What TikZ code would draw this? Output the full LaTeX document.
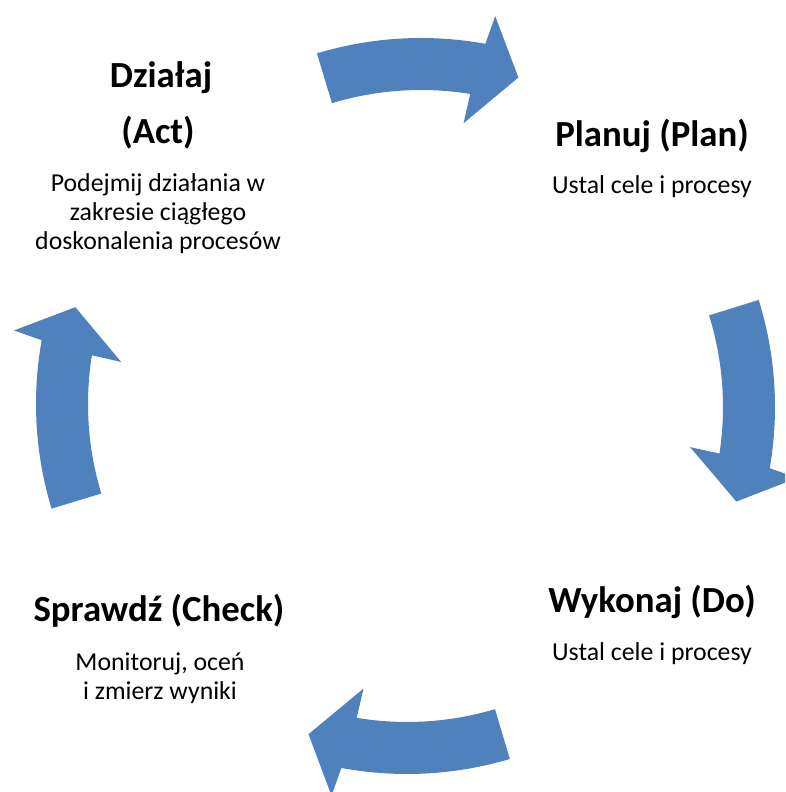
\documentclass[tikz,border=0pt]{standalone}
\usepackage{fontspec}
\setmainfont{Carlito}
\usetikzlibrary{calc}
\definecolor{cycleblue}{HTML}{4F81BD}
\tikzset{
  cyclearrow/.style={fill=cycleblue},
  headtext/.style={anchor=base, font=\fontsize{36.8}{40}\selectfont\bfseries, inner sep=0pt},
  bodytext/.style={anchor=base, font=\fontsize{25.8}{30}\selectfont, inner sep=0pt}
}
% #1 centre, #2 tail angle (arrow runs clockwise)
\newcommand{\pdcaarrow}[2]{%
  \fill[cyclearrow] ($(#1)+(#2:360)$)
    arc[start angle=#2, end angle={#2-27.1}, radius=360]
    -- ($(#1)+({#2-27.8}:389)$)
    -- ($(#1)+({#2-33.7}:335)$)
    -- ($(#1)+({#2-25.6}:278)$)
    -- ($(#1)+({#2-26}:308)$)
    arc[start angle={#2-26}, end angle=#2, radius=308]
    -- cycle;}
\begin{document}
\begin{tikzpicture}[x=1pt, y=1pt]
\useasboundingbox (0,0) rectangle (785,792);
\clip (0,0) rectangle (785,792);
\coordinate (ctop) at (421,394);
\coordinate (cright) at (415,385);
\coordinate (cbottom) at (407,378);
\coordinate (cleft) at (396,388);
\pdcaarrow{ctop}{106.8}
\pdcaarrow{cright}{17.3}
\pdcaarrow{cbottom}{-73.4}
\pdcaarrow{cleft}{196.9}
% Act
\node[headtext] (act1) at (161,704) {Działaj};
\node[headtext] (act2) at (158,648) {(Act)};
\node[bodytext] (actb1) at (158,600) {Podejmij działania w};
\node[bodytext] (actb2) at (158,571) {zakresie ciągłego};
\node[bodytext] (actb3) at (158,542) {doskonalenia procesów};
% Plan
\node[headtext] (plan) at (652,645) {Planuj (Plan)};
\node[bodytext] (planb) at (652,598) {Ustal cele i procesy};
% Do
\node[headtext] (do) at (652,179) {Wykonaj (Do)};
\node[bodytext] (dob) at (652,131) {Ustal cele i procesy};
% Check
\node[headtext] (check) at (159,170) {Sprawdź (Check)};
\node[bodytext] (checkb1) at (160,121) {Monitoruj, oceń};
\node[bodytext] (checkb2) at (160,92) {i zmierz wyniki};
\end{tikzpicture}
\end{document}
